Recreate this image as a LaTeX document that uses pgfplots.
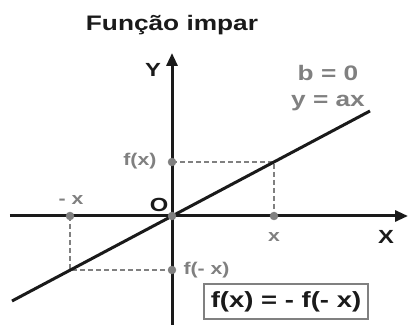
\documentclass[border=0pt]{standalone}
\usepackage{fontspec}
\setmainfont{Liberation Sans}
\newfontfamily\wide[FakeStretch=1.25]{Liberation Sans}
\usepackage{pgfplots}
\pgfplotsset{compat=1.18}
\usetikzlibrary{arrows.meta}
\definecolor{ink}{HTML}{1A1A1A}
\definecolor{mid}{HTML}{808080}

\begin{document}
\begin{tikzpicture}
\begin{axis}[
  scale only axis,
  width=398pt, height=272pt,
  xmin=-162, xmax=236, ymin=-109, ymax=163,
  axis lines=middle,
  axis line style={ink, line width=3pt, -{Triangle[length=13pt,width=11pt]}},
  xtick=\empty, ytick=\empty,
  clip=false,
]
% canvas frame (invisible)
\path (axis cs:-172,-109) rectangle (axis cs:238,216);

% dashed projections
\addplot[mid, line width=1.2pt, dash pattern=on 5pt off 3pt] coordinates {(0,54) (102,54) (102,0)};
\addplot[mid, line width=1.2pt, dash pattern=on 5pt off 3pt] coordinates {(-102,0) (-102,-54) (0,-54)};

% y = ax
\addplot[ink, line width=3pt] coordinates {(-160,-85) (198,105)};

% points
\addplot[only marks, mark=*, mark size=4pt, mid] coordinates {(0,0) (102,0) (-102,0) (0,54) (0,-54)};

\node[font=\wide\bfseries\fontsize{21}{21}\selectfont, text=ink] at (axis cs:0,191) {Função impar};
\node[font=\wide\bfseries\fontsize{19}{19}\selectfont, text=ink] at (axis cs:-19,146) {Y};
\node[font=\wide\bfseries\fontsize{19}{19}\selectfont, text=ink] at (axis cs:214,-21) {X};
\node[font=\wide\bfseries\fontsize{19}{19}\selectfont, text=ink] at (axis cs:-13,11) {O};
\node[font=\wide\bfseries\fontsize{17}{17}\selectfont, text=mid] at (axis cs:-101,16) {- x};
\node[font=\wide\bfseries\fontsize{17}{17}\selectfont, text=mid] at (axis cs:102,-21) {x};
\node[font=\wide\bfseries\fontsize{17}{17}\selectfont, text=mid, anchor=east] at (axis cs:-12,55) {f(x)};
\node[font=\wide\bfseries\fontsize{17}{17}\selectfont, text=mid, anchor=west] at (axis cs:8,-54) {f(- x)};
\node[font=\wide\bfseries\fontsize{21}{21}\selectfont, text=mid] at (axis cs:156,143) {b = 0};
\node[font=\wide\bfseries\fontsize{21}{21}\selectfont, text=mid] at (axis cs:156,113) {y = ax};
\node[draw=mid, line width=2pt, fill=white, minimum width=164pt, minimum height=35pt,
      font=\wide\bfseries\fontsize{22}{22}\selectfont, text=ink] at (axis cs:114,-86) {f(x) = - f(- x)};
\end{axis}
\end{tikzpicture}
\end{document}
